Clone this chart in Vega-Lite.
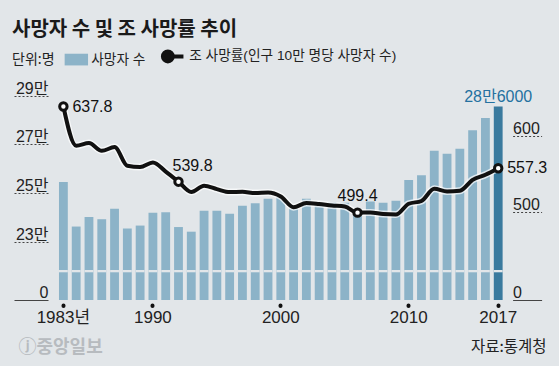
{
  "$schema": "https://vega.github.io/schema/vega-lite/v6.json",
  "width": 447.6,
  "height": 220,
  "autosize": {"type": "none"},
  "padding": {"left": 57, "top": 80, "right": 54.4, "bottom": 66},
  "background": "#e2e6e9",
  "config": {"view": {"stroke": null}},
  "title": {"text": "사망자 수 및 조 사망률 추이", "anchor": "start", "frame": "bounds", "font": "Noto Sans CJK KR", "fontSize": 20, "fontWeight": "bold", "color": "#1a1a1a", "offset": 10},
  "data": {"values": [
    {"year": 1983, "deaths": 254600, "rate": 637.8},
    {"year": 1984, "deaths": 236400, "rate": 586.6},
    {"year": 1985, "deaths": 240300, "rate": 590.1},
    {"year": 1986, "deaths": 239400, "rate": 580.0},
    {"year": 1987, "deaths": 243700, "rate": 584.9},
    {"year": 1988, "deaths": 235600, "rate": 560.5},
    {"year": 1989, "deaths": 236800, "rate": 558.8},
    {"year": 1990, "deaths": 242000, "rate": 564.8},
    {"year": 1991, "deaths": 242200, "rate": 553.0},
    {"year": 1992, "deaths": 236200, "rate": 539.8},
    {"year": 1993, "deaths": 234300, "rate": 526.2},
    {"year": 1994, "deaths": 242900, "rate": 534.4},
    {"year": 1995, "deaths": 242900, "rate": 530.1},
    {"year": 1996, "deaths": 241600, "rate": 526.2},
    {"year": 1997, "deaths": 244900, "rate": 526.6},
    {"year": 1998, "deaths": 245900, "rate": 524.9},
    {"year": 1999, "deaths": 247800, "rate": 525.7},
    {"year": 2000, "deaths": 248600, "rate": 520.5},
    {"year": 2001, "deaths": 243800, "rate": 506.6},
    {"year": 2002, "deaths": 247800, "rate": 511.9},
    {"year": 2003, "deaths": 245800, "rate": 510.6},
    {"year": 2004, "deaths": 246200, "rate": 508.7},
    {"year": 2005, "deaths": 246100, "rate": 507.4},
    {"year": 2006, "deaths": 242300, "rate": 499.4},
    {"year": 2007, "deaths": 246600, "rate": 499.6},
    {"year": 2008, "deaths": 246100, "rate": 497.5},
    {"year": 2009, "deaths": 247000, "rate": 496.9},
    {"year": 2010, "deaths": 255400, "rate": 511.0},
    {"year": 2011, "deaths": 257400, "rate": 514.6},
    {"year": 2012, "deaths": 267400, "rate": 530.5},
    {"year": 2013, "deaths": 266200, "rate": 527.0},
    {"year": 2014, "deaths": 268200, "rate": 527.9},
    {"year": 2015, "deaths": 275800, "rate": 542.2},
    {"year": 2016, "deaths": 280800, "rate": 548.8},
    {"year": 2017, "deaths": 285500, "rate": 557.3}
  ]},
  "encoding": {
    "x": {
      "field": "year", "type": "ordinal",
      "scale": {"paddingInner": 0.31, "paddingOuter": 0.155},
      "axis": {
        "values": [1983, 1990, 2000, 2010, 2017],
        "labelExpr": "datum.value == 1983 ? '1983년' : datum.label",
        "labelAngle": 0, "domain": false, "offset": 5,
        "tickSize": 0.5, "tickWidth": 4, "tickCap": "round", "tickColor": "#111",
        "labelPadding": 4, "labelFont": "Liberation Sans Narrow, Liberation Sans, Noto Sans CJK KR", "labelFontSize": 17, "labelColor": "#222",
        "title": "자료:통계청", "titleX": 489, "titleY": 41, "titleAlign": "right", "titleBaseline": "middle",
        "titleFont": "Noto Sans CJK KR", "titleFontSize": 15.5, "titleFontWeight": "normal", "titleColor": "#222"
      }
    }
  },
  "layer": [
    {
      "layer": [
        {
          "mark": {"type": "bar"},
          "encoding": {
            "y": {
              "field": "deaths", "type": "quantitative",
              "scale": {"domain": [206360, 296340], "zero": false, "nice": false},
              "axis": {
                "orient": "left",
                "values": [206360, 230000, 250000, 270000, 290000],
                "labelExpr": "datum.value < 210000 ? '0' : (datum.value / 10000) + '만'",
                "offset": 9, "tickSize": 34, "tickWidth": 1, "tickColor": "#444",
                "tickDash": {"condition": {"test": "datum.value < 210000", "value": []}, "value": [2, 2]},
                "labelPadding": -34, "labelAlign": "right", "labelBaseline": "alphabetic", "labelOffset": -2.5,
                "labelFont": "Liberation Sans, Noto Sans CJK KR", "labelFontSize": 16, "labelColor": "#222",
                "domain": false, "grid": false,
                "title": "ⓙ중앙일보", "titleAngle": 0, "titleX": -30, "titleY": 267, "titleAlign": "left", "titleBaseline": "middle",
                "titleFont": "Noto Sans CJK KR", "titleFontSize": 18, "titleFontWeight": "bold", "titleColor": "#b7bbbf"
              }
            },
            "y2": {"datum": 206360},
            "color": {
              "datum": "사망자 수",
              "condition": {"test": "datum.year === 2017", "value": "#3a7a9e"},
              "scale": {"domain": ["사망자 수", "조 사망률(인구 10만 명당 사망자 수)"], "range": ["#8cb3c8", "#111111"]},
              "legend": {
                "orient": "none", "legendX": -45, "legendY": -30.5, "direction": "horizontal",
                "title": "단위:명", "titleOrient": "left", "titlePadding": 14.5, "titleBaseline": "middle",
                "titleFont": "Noto Sans CJK KR", "titleFontSize": 14, "titleFontWeight": "normal", "titleColor": "#222",
                "labelFont": "Liberation Sans, Noto Sans CJK KR", "labelFontSize": 13.7, "labelColor": "#222", "labelOffset": 8, "labelLimit": 400,
                "symbolSize": 676, "columnPadding": 9,
                "encode": {
                  "symbols": {
                    "update": {
                      "shape": {"signal": "datum.value === '사망자 수' ? 'M-0.9,-0.45H0.9V0.45H-0.9Z' : 'M-0.88,0A0.38,0.38,0,1,1,-0.12,0A0.38,0.38,0,1,1,-0.88,0ZM-0.12,0L0.7,0'"},
                      "fill": {"signal": "datum.value === '사망자 수' ? '#8cb3c8' : '#ffffff'"},
                      "stroke": {"signal": "datum.value === '사망자 수' ? 'transparent' : '#111111'"},
                      "strokeWidth": {"signal": "datum.value === '사망자 수' ? 0 : 4"},
                      "opacity": {"value": 1},
                      "fillOpacity": {"value": 1},
                      "strokeOpacity": {"value": 1}
                    }
                  }
                }
              }
            }
          }
        },
        {
          "mark": {"type": "bar", "color": "#e2e6e9"},
          "encoding": {
            "y": {"datum": 218630, "type": "quantitative"},
            "y2": {"datum": 217690}
          }
        },
        {
          "transform": [{"filter": "datum.year === 2017"}],
          "mark": {"type": "text", "dy": -5, "baseline": "alphabetic", "align": "center", "font": "Liberation Sans, Noto Sans CJK KR", "fontSize": 16, "color": "#2471a0"},
          "encoding": {
            "y": {"field": "deaths", "type": "quantitative"},
            "text": {"value": "28만6000"}
          }
        }
      ]
    },
    {
      "layer": [
        {
          "mark": {"type": "line", "interpolate": "monotone", "color": "#ffffff", "strokeWidth": 7, "opacity": 0.7},
          "encoding": {
            "y": {
              "field": "rate", "type": "quantitative",
              "scale": {"domain": [385.5, 672.4], "zero": false, "nice": false},
              "axis": {
                "orient": "right",
                "values": [385.5, 500, 600],
                "labelExpr": "datum.value < 400 ? '0' : datum.label",
                "offset": 8, "tickSize": 29, "tickWidth": 1, "tickColor": "#444",
                "tickDash": {"condition": {"test": "datum.value < 400", "value": []}, "value": [2, 2]},
                "labelPadding": -29, "labelAlign": "left", "labelBaseline": "alphabetic", "labelOffset": -2.5,
                "labelFont": "Liberation Sans", "labelFontSize": 16, "labelColor": "#222",
                "domain": false, "grid": false, "title": null
              }
            }
          }
        },
        {
          "mark": {"type": "line", "interpolate": "monotone", "strokeWidth": 4, "strokeJoin": "round", "strokeCap": "round"},
          "encoding": {
            "y": {"field": "rate", "type": "quantitative"},
            "color": {"datum": "조 사망률(인구 10만 명당 사망자 수)"}
          }
        },
        {
          "transform": [{"filter": {"field": "year", "oneOf": [1983, 1992, 2006, 2017]}}],
          "mark": {"type": "point", "shape": "circle", "filled": false, "fill": "#ffffff", "fillOpacity": 1, "stroke": "#111111", "strokeWidth": 3, "size": 55, "opacity": 1},
          "encoding": {"y": {"field": "rate", "type": "quantitative"}}
        },
        {
          "transform": [{"filter": {"field": "year", "oneOf": [1983, 2017]}}],
          "mark": {"type": "text", "align": "left", "baseline": "middle", "dx": 9, "font": "Liberation Sans", "fontSize": 16, "color": "#111"},
          "encoding": {"y": {"field": "rate", "type": "quantitative"}, "text": {"field": "rate", "type": "quantitative", "format": ".1f"}}
        },
        {
          "transform": [{"filter": "datum.year === 1992"}],
          "mark": {"type": "text", "align": "left", "baseline": "alphabetic", "dx": -6, "dy": -11, "font": "Liberation Sans", "fontSize": 16, "color": "#111"},
          "encoding": {"y": {"field": "rate", "type": "quantitative"}, "text": {"field": "rate", "type": "quantitative", "format": ".1f"}}
        },
        {
          "transform": [{"filter": "datum.year === 2006"}],
          "mark": {"type": "text", "align": "center", "baseline": "alphabetic", "dy": -12, "font": "Liberation Sans", "fontSize": 16, "color": "#111"},
          "encoding": {"y": {"field": "rate", "type": "quantitative"}, "text": {"field": "rate", "type": "quantitative", "format": ".1f"}}
        }
      ]
    }
  ],
  "resolve": {"scale": {"y": "independent"}}
}
